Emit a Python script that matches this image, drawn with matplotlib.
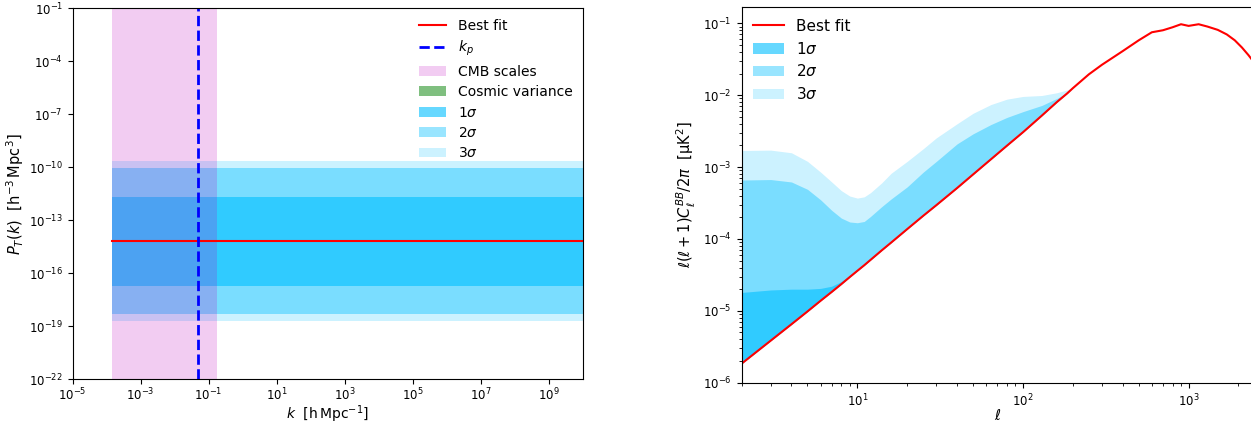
import numpy as np
import matplotlib
matplotlib.use("Agg")
import matplotlib.pyplot as plt
from matplotlib.patches import Patch
from matplotlib.lines import Line2D
from matplotlib.ticker import NullLocator

# ---- left panel: tensor power spectrum constraints ----
k_range = [1.4e-4, 1e10]
k_pivot = 0.05
cmb_kmin, cmb_kmax = 1.4e-4, 0.18
pt_best = 6.8e-15
pt_1sig = [1.9e-17, 2.1e-12]
pt_2sig = [5.0e-19, 8.8e-11]
pt_3sig = [2.0e-19, 2.2e-10]

# ---- right panel: BB spectrum ----
ell = [2, 3, 4, 5, 6, 7, 8, 9, 10, 11, 12, 14, 16, 20, 25, 30, 40, 50, 64, 80,
       100, 130, 160, 185, 200,
       250, 300, 400, 500, 600, 700, 800, 900, 1000, 1150, 1300, 1500, 1700,
       1900, 2100, 2300, 2500]
cl_best = [1.84e-6, 3.85e-6, 6.5e-6, 9.8e-6, 1.38e-5, 1.83e-5, 2.35e-5, 2.95e-5,
           3.6e-5, 4.3e-5, 5.1e-5, 6.9e-5, 8.9e-5, 1.37e-4, 2.1e-4, 2.95e-4,
           5.1e-4, 7.9e-4, 1.28e-3, 1.98e-3, 3.05e-3, 5.2e-3, 8.0e-3, 1.06e-2,
           1.25e-2,
           1.95e-2, 2.65e-2, 4.1e-2, 5.8e-2, 7.5e-2, 8.0e-2, 8.8e-2, 9.7e-2,
           9.2e-2, 9.7e-2, 9.0e-2, 8.1e-2, 7.0e-2, 5.8e-2, 4.6e-2, 3.6e-2, 2.8e-2]
# upper edges of the bands (lower edge is the best fit), ell = 2 ... 200
cl_1sig = [1.8e-5, 1.95e-5, 2.0e-5, 2.0e-5, 2.05e-5, 2.2e-5, 2.55e-5, 3.1e-5,
           3.75e-5, 4.45e-5, 5.3e-5, 7.1e-5, 9.2e-5, 1.41e-4, 2.16e-4, 3.04e-4,
           5.25e-4, 8.1e-4, 1.31e-3, 2.03e-3, 3.12e-3, 5.3e-3, 8.1e-3, 1.07e-2,
           1.25e-2]
cl_2sig = [6.6e-4, 6.7e-4, 6.2e-4, 4.9e-4, 3.5e-4, 2.5e-4, 1.95e-4, 1.72e-4,
           1.68e-4, 1.75e-4, 2.05e-4, 2.8e-4, 3.6e-4, 5.3e-4, 8.5e-4, 1.2e-3,
           2.1e-3, 2.9e-3, 3.9e-3, 4.9e-3, 5.9e-3, 7.2e-3, 9.0e-3, 1.08e-2,
           1.25e-2]
cl_3sig = [1.7e-3, 1.72e-3, 1.58e-3, 1.2e-3, 8.5e-4, 6.2e-4, 4.7e-4, 3.95e-4,
           3.7e-4, 3.85e-4, 4.4e-4, 6.0e-4, 8.2e-4, 1.2e-3, 1.8e-3, 2.55e-3,
           4.0e-3, 5.6e-3, 7.4e-3, 8.8e-3, 9.6e-3, 9.9e-3, 1.08e-2, 1.18e-2,
           1.27e-2]

band_col = 'deepskyblue'
alphas = {'1': 0.6, '2': 0.4, '3': 0.2}
tick_fs = 8.5
label_fs = 10.5

fig = plt.figure(figsize=(12.51, 4.23), dpi=100)
ax1 = fig.add_axes([0.0581, 0.1030, 0.4077, 0.8773])
ax2 = fig.add_axes([0.5928, 0.0953, 0.41, 0.8875])

# left
ax1.fill_between(k_range, pt_3sig[0], pt_3sig[1], color=band_col, alpha=alphas['3'], lw=0)
ax1.fill_between(k_range, pt_2sig[0], pt_2sig[1], color=band_col, alpha=alphas['2'], lw=0)
ax1.fill_between(k_range, pt_1sig[0], pt_1sig[1], color=band_col, alpha=alphas['1'], lw=0)
ax1.axvspan(cmb_kmin, cmb_kmax, color='m', alpha=0.2, lw=0)
ax1.plot(k_range, [pt_best, pt_best], 'r', lw=1.5)
ax1.axvline(k_pivot, color='b', ls='--', lw=2)
ax1.set_xscale('log')
ax1.set_yscale('log')
ax1.set_xlim(1e-5, 1e10)
ax1.set_ylim(1e-22, 1e-1)
ax1.set_xticks([10.0**e for e in range(-5, 10, 2)])
ax1.set_yticks([10.0**e for e in range(-22, 0, 3)])
ax1.xaxis.set_minor_locator(NullLocator())
ax1.yaxis.set_minor_locator(NullLocator())
ax1.tick_params(labelsize=tick_fs)
ax1.tick_params(axis='x', pad=2)
ax1.set_xlabel(r'$k$  [h$\,$Mpc$^{-1}$]', fontsize=10, labelpad=0)
ax1.set_ylabel(r'$P_T(k)\ \ [\mathrm{h^{-3}\,Mpc^3}]$', fontsize=label_fs, labelpad=2)

h1 = [Line2D([], [], color='r', lw=1.5),
      Line2D([], [], color='b', ls='--', lw=2),
      Patch(color='m', alpha=0.2, lw=0),
      Patch(color='g', alpha=0.5, lw=0),
      Patch(color=band_col, alpha=alphas['1'], lw=0),
      Patch(color=band_col, alpha=alphas['2'], lw=0),
      Patch(color=band_col, alpha=alphas['3'], lw=0)]
l1 = ['Best fit', r'$k_p$', 'CMB scales', 'Cosmic variance',
      r'$1\sigma$', r'$2\sigma$', r'$3\sigma$']
ax1.legend(h1, l1, loc='upper right', frameon=False, fontsize=10,
           labelspacing=0.46, borderaxespad=0.35)

# right
n = len(cl_1sig)
ax2.fill_between(ell[:n], cl_best[:n], cl_3sig, color=band_col, alpha=alphas['3'], lw=0)
ax2.fill_between(ell[:n], cl_best[:n], cl_2sig, color=band_col, alpha=alphas['2'], lw=0)
ax2.fill_between(ell[:n], cl_best[:n], cl_1sig, color=band_col, alpha=alphas['1'], lw=0)
ax2.plot(ell, cl_best, 'r', lw=1.5)
ax2.set_xscale('log')
ax2.set_yscale('log')
ax2.set_xlim(2, 2500)
ax2.set_ylim(1e-6, 0.167)
ax2.tick_params(labelsize=tick_fs)
ax2.set_xlabel(r'$\ell$', fontsize=label_fs, labelpad=-1)
ax2.set_ylabel(r'$\ell(\ell+1)C_\ell^{BB}/2\pi$  [μK$^2$]', fontsize=label_fs)

h2 = [Line2D([], [], color='r', lw=1.5),
      Patch(color=band_col, alpha=alphas['1'], lw=0),
      Patch(color=band_col, alpha=alphas['2'], lw=0),
      Patch(color=band_col, alpha=alphas['3'], lw=0)]
l2 = ['Best fit', r'$1\sigma$', r'$2\sigma$', r'$3\sigma$']
ax2.legend(h2, l2, loc='upper left', frameon=False, fontsize=11,
           labelspacing=0.45, borderaxespad=0.35)

fig.savefig('out.png', dpi=100)
